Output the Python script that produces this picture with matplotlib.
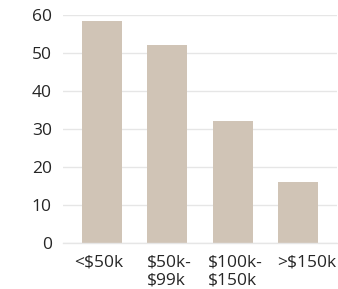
import matplotlib
matplotlib.use("Agg")
import matplotlib.pyplot as plt
import matplotlib.transforms as mtransforms

categories = ["<$50k", "$50k-\n$99k", "$100k-\n$150k", ">$150k"]
values = [58.4, 52.3, 32.3, 16.1]
yticks = [0, 10, 20, 30, 40, 50, 60]

plt.rcParams['font.family'] = ['Open Sans', 'DejaVu Sans']

fig = plt.figure(figsize=(3.38, 2.89), dpi=100)
ax = fig.add_axes([63/338, 1 - 243.3/289, (337-63)/338, (243.3-15.3)/289])

x = list(range(len(categories)))
ax.bar(x, values, width=0.615, color="#d0c4b6", zorder=2)
ax.set_xlim(-0.6, 3.6)
ax.set_ylim(0, 60)
ax.set_yticks(yticks)
ax.set_xticks(x)
ax.set_xticklabels(categories, fontsize=12.5, color="#262626", linespacing=1.2, va="top")
ax.tick_params(axis='y', labelsize=12.5, labelcolor="#262626", length=0, pad=8)
ax.tick_params(axis='x', length=0, pad=8)
label_dx_px = [-3, 1.5, 3, 9]
for lab, dx in zip(ax.get_xticklabels(), label_dx_px):
    lab.set_horizontalalignment('center')
    lab.set_multialignment('left')
    lab.set_transform(lab.get_transform() + mtransforms.ScaledTranslation(dx / 100, 0, fig.dpi_scale_trans))
for lab in ax.get_yticklabels():
    lab.set_horizontalalignment('right')
ax.grid(axis='y', color="#e6e6e6", linewidth=1, zorder=0)
for s in ["top", "right", "left"]:
    ax.spines[s].set_visible(False)
ax.spines["bottom"].set_color("#e6e6e6")
ax.spines["bottom"].set_linewidth(1)

fig.savefig("out.png", dpi=100)
